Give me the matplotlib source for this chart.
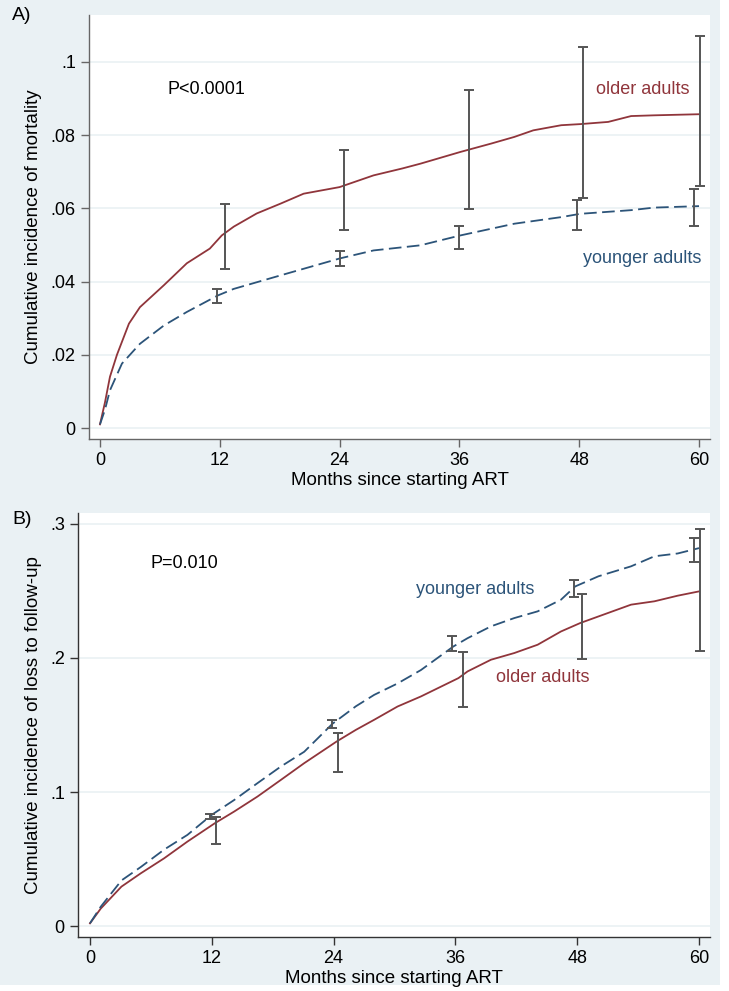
import matplotlib.pyplot as plt
from matplotlib.patches import Rectangle

plt.rcParams['font.family'] = ['Liberation Sans', 'DejaVu Sans']

BG = '#eaf1f4'
RED = '#90353b'
BLUE = '#2c5479'
BAR = '#555555'

# panel A: cumulative incidence of mortality
a_old_x = [0, 0.5, 1, 1.7, 2.9, 4, 6.4, 8.7, 11, 12.2, 13.4, 15.7, 18.1, 20.4, 24, 27.4, 30.3,
           32.1, 36.1, 39.2, 41.5, 43.4, 46.2, 48.1, 50.9, 53.2, 55.5, 60]
a_old_y = [0.001, 0.007, 0.014, 0.020, 0.0285, 0.033, 0.039, 0.045, 0.049, 0.0526, 0.055, 0.0586,
           0.0613, 0.064, 0.0658, 0.069, 0.0709, 0.0722, 0.0754, 0.0777, 0.0795, 0.0813,
           0.0827, 0.083, 0.0836, 0.0852, 0.0854, 0.0857]
a_young_x = [0, 0.5, 1, 2.2, 4, 6.4, 8.7, 11.8, 13.4, 18.1, 24, 27.4, 32.1, 36.1, 41.5, 46.2,
             48.1, 53.2, 55.5, 60]
a_young_y = [0.001, 0.005, 0.0103, 0.0176, 0.023, 0.028, 0.0317, 0.0362, 0.038, 0.0417, 0.0463,
             0.0485, 0.0499, 0.0526, 0.0558, 0.0576, 0.0585, 0.0595, 0.0602, 0.0606]
a_old_ci_x = [12.5, 24.4, 37.0, 48.4, 60.1]
a_old_ci_lo = [0.0433, 0.0542, 0.0599, 0.0629, 0.0661]
a_old_ci_hi = [0.0613, 0.0759, 0.0923, 0.1041, 0.1071]
a_young_ci_x = [11.7, 24.0, 36.0, 47.8, 59.5]
a_young_ci_lo = [0.0342, 0.0442, 0.049, 0.0542, 0.0551]
a_young_ci_hi = [0.0381, 0.0483, 0.0551, 0.0622, 0.0652]

# panel B: cumulative incidence of loss to follow-up
b_young_x = [0, 1.06, 3.1, 5, 7.3, 9.6, 12, 14.2, 16.5, 18.8, 21.1, 23.9, 26.2, 28, 30.3,
             32.6, 35.8, 37.2, 39.5, 41.8, 44.1, 46.4, 47.8, 50.1, 53.3, 55.6, 57.9, 60]
b_young_y = [0.002, 0.0144, 0.034, 0.044, 0.057, 0.068, 0.083, 0.094, 0.1066, 0.119, 0.130,
             0.151, 0.164, 0.1725, 0.181, 0.191, 0.2086, 0.2148, 0.2236, 0.2298, 0.2348,
             0.2435, 0.2534, 0.261, 0.2684, 0.2759, 0.278, 0.282]
b_old_x = [0, 1.06, 3.1, 5, 7.3, 9.6, 12.3, 14.2, 16.5, 18.8, 21.1, 24.3, 26.2, 28, 30.3,
           32.6, 36.3, 37.2, 39.5, 41.8, 44.1, 46.4, 48.3, 51, 53.3, 55.6, 57.9, 60]
b_old_y = [0.002, 0.013, 0.0294, 0.0393, 0.0505, 0.063, 0.0767, 0.0854, 0.0966, 0.109,
           0.1215, 0.1377, 0.1464, 0.1539, 0.1638, 0.1713, 0.185, 0.19, 0.1987, 0.2037,
           0.2099, 0.2198, 0.2261, 0.2335, 0.2398, 0.2423, 0.2465, 0.2497]
b_young_ci_x = [11.8, 23.85, 35.7, 47.7, 59.5]
b_young_ci_lo = [0.0797, 0.1474, 0.2049, 0.2455, 0.2716]
b_young_ci_hi = [0.0834, 0.1539, 0.2161, 0.258, 0.2896]
b_old_ci_x = [12.4, 24.4, 36.7, 48.5, 60.1]
b_old_ci_lo = [0.0612, 0.1153, 0.1633, 0.1992, 0.2054]
b_old_ci_hi = [0.0812, 0.1439, 0.2042, 0.2477, 0.2963]

x_ticks = [0, 12, 24, 36, 48, 60]
a_yticks = [0, 0.02, 0.04, 0.06, 0.08, 0.1]
a_ylabels = ['0', '.02', '.04', '.06', '.08', '.1']
b_yticks = [0, 0.1, 0.2, 0.3]
b_ylabels = ['0', '.1', '.2', '.3']

fig = plt.figure(figsize=(7.29, 9.91), dpi=100, facecolor='white')
fig.patches.append(Rectangle((0, 6 / 991), 720 / 729, 1 - 6 / 991, transform=fig.transFigure,
                             facecolor=BG, edgecolor='none', zorder=-10))

axA = fig.add_axes([89 / 729, (991 - 439) / 991, 621 / 729, 424 / 991])
axB = fig.add_axes([78 / 729, (991 - 937) / 991, 632 / 729, 424 / 991])


def draw(ax, old, young, old_ci, young_ci, yticks, ylabels, ylim, xlim, ylabel, spine_col):
    ax.set_facecolor('white')
    for y in yticks:
        ax.axhline(y, color=BG, lw=1.2, zorder=0)
    ax.plot(old[0], old[1], color=RED, lw=1.3, zorder=3)
    ax.plot(young[0], young[1], color=BLUE, lw=1.3, dashes=(7, 3), zorder=3)
    for cx, lo, hi in [old_ci, young_ci]:
        ax.errorbar(cx, [(a + b) / 2 for a, b in zip(lo, hi)],
                    yerr=[[(b - a) / 2 for a, b in zip(lo, hi)]] * 2,
                    fmt='none', ecolor=BAR, elinewidth=1.4, capsize=3.5, capthick=1.4, zorder=4)
    ax.set_xlim(*xlim)
    ax.set_ylim(*ylim)
    ax.set_xticks(x_ticks)
    ax.set_yticks(yticks)
    ax.set_yticklabels(ylabels)
    for s in ['top', 'right']:
        ax.spines[s].set_visible(False)
    for s in ['left', 'bottom']:
        ax.spines[s].set_color(spine_col)
        ax.spines[s].set_linewidth(1.0)
    ax.tick_params(colors=spine_col, labelcolor='black', labelsize=13, length=6, width=1.0)
    ax.set_xlabel('Months since starting ART', fontsize=13.5, labelpad=2)
    ax.set_ylabel(ylabel, fontsize=13.5, labelpad=6)


draw(axA, (a_old_x, a_old_y), (a_young_x, a_young_y),
     (a_old_ci_x, a_old_ci_lo, a_old_ci_hi), (a_young_ci_x, a_young_ci_lo, a_young_ci_hi),
     a_yticks, a_ylabels, (-0.003, 0.1128), (-1.1, 61.1), 'Cumulative incidence of mortality', '#666666')
draw(axB, (b_old_x, b_old_y), (b_young_x, b_young_y),
     (b_old_ci_x, b_old_ci_lo, b_old_ci_hi), (b_young_ci_x, b_young_ci_lo, b_young_ci_hi),
     b_yticks, b_ylabels, (-0.0082, 0.3082), (-1.18, 61.08), 'Cumulative incidence of loss to follow-up', '#333333')

axA.text(6.8, 0.0924, 'P<0.0001', fontsize=13, va='center')
axA.text(49.7, 0.0924, 'older adults', fontsize=13, va='center', color=RED)
axA.text(60.2, 0.0463, 'younger adults', fontsize=13, va='center', ha='right', color=BLUE)
axB.text(6.0, 0.2704, 'P=0.010', fontsize=13, va='center')
axB.text(32.1, 0.251, 'younger adults', fontsize=13, va='center', color=BLUE)
axB.text(40.0, 0.1857, 'older adults', fontsize=13, va='center', color=RED)

fig.text(12 / 729, 1 - 15 / 991, 'A)', fontsize=14, va='center')
fig.text(12 / 729, 1 - 520 / 991, 'B)', fontsize=14, va='center')

fig.savefig('out.png', dpi=100, facecolor='white')
